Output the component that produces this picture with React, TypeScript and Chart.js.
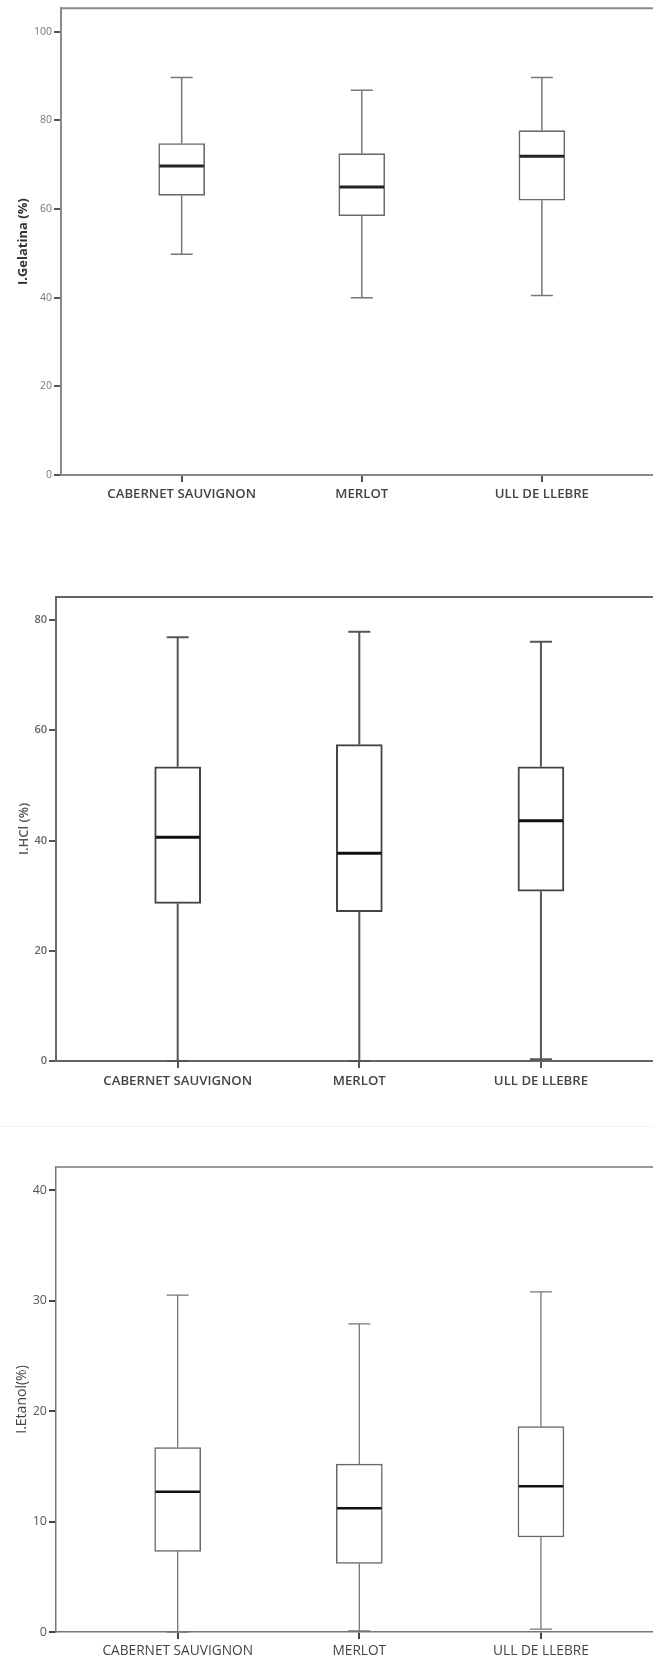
import React, { useEffect, useRef } from 'react';
import { Chart, registerables } from 'chart.js';

Chart.register(...registerables);

// ---------- data ----------
const categories = ['CABERNET SAUVIGNON', 'MERLOT', 'ULL DE LLEBRE'];

// I.Gelatina (%)
const gelMin = [49.8, 40.0, 40.5];
const gelQ1 = [63.1, 58.5, 62.0];
const gelMedian = [69.7, 65.0, 71.9];
const gelQ3 = [74.8, 72.5, 77.7];
const gelMax = [89.7, 86.8, 89.7];
const gelTicks = [0, 20, 40, 60, 80, 100];

// I.HCl (%)
const hclMin = [0, 0, 0.3];
const hclQ1 = [28.6, 27.1, 30.8];
const hclMedian = [40.6, 37.7, 43.6];
const hclQ3 = [53.4, 57.4, 53.4];
const hclMax = [76.9, 77.9, 76.1];
const hclTicks = [0, 20, 40, 60, 80];

// I.Etanol (%)
const etaMin = [0, 0.1, 0.26];
const etaQ1 = [7.3, 6.2, 8.6];
const etaMedian = [12.7, 11.2, 13.2];
const etaQ3 = [16.7, 15.2, 18.6];
const etaMax = [30.5, 27.9, 30.8];
const etaTicks = [0, 10, 20, 30, 40];

type Stats = { min: number[]; q1: number[]; median: number[]; q3: number[]; max: number[] };

type PanelStyle = {
  top: number;
  height: number;
  plotTop: number;
  plotLeft: number;
  xAxisHeight: number;
  yMax: number;
  yTicks: number[];
  title: string;
  titleFont: any;
  titleColor: string;
  titlePad: number;
  tickFont: any;
  tickColor: string;
  xFont: any;
  xColor: string;
  xPad: number;
  axisColor: string;
  axisWidth: number;
  markColor: string;
  boxColor: string;
  boxWidth: number;
  whiskerColor: string;
  whiskerWidth: number;
  medianColor: string;
  medianWidth: number;
};

const W = 653;

function makePlugin(stats: Stats, st: PanelStyle) {
  return {
    id: 'boxExtras',
    afterDatasetsDraw(chart: any) {
      const { ctx, chartArea, scales } = chart;
      const y = scales.y;
      const meta = chart.getDatasetMeta(0);
      const cap = 11;
      ctx.save();
      meta.data.forEach((bar: any, i: number) => {
        const x = bar.x;
        const half = bar.width / 2;
        const pMin = y.getPixelForValue(stats.min[i]);
        const pMax = y.getPixelForValue(stats.max[i]);
        const pQ1 = y.getPixelForValue(stats.q1[i]);
        const pQ3 = y.getPixelForValue(stats.q3[i]);
        const pMed = y.getPixelForValue(stats.median[i]);
        ctx.strokeStyle = st.whiskerColor;
        ctx.lineWidth = st.whiskerWidth;
        ctx.beginPath();
        ctx.moveTo(x, pQ3);
        ctx.lineTo(x, pMax);
        ctx.moveTo(x, pQ1);
        ctx.lineTo(x, pMin);
        ctx.moveTo(x - cap, pMax);
        ctx.lineTo(x + cap, pMax);
        ctx.moveTo(x - cap, pMin);
        ctx.lineTo(x + cap, pMin);
        ctx.stroke();
        ctx.strokeStyle = st.medianColor;
        ctx.lineWidth = st.medianWidth;
        ctx.beginPath();
        ctx.moveTo(x - half + st.boxWidth / 2, pMed);
        ctx.lineTo(x + half - st.boxWidth / 2, pMed);
        ctx.stroke();
      });
      ctx.strokeStyle = st.axisColor;
      ctx.lineWidth = st.axisWidth;
      ctx.beginPath();
      ctx.moveTo(chartArea.left, chartArea.top);
      ctx.lineTo(chartArea.right, chartArea.top);
      ctx.stroke();
      ctx.restore();
    },
  };
}

function BoxPanel({ stats, st }: { stats: Stats; st: PanelStyle }) {
  const ref = useRef<HTMLCanvasElement | null>(null);
  useEffect(() => {
    if (!ref.current) return;
    const data = categories.map((_, i) => ({ x: i + 1, y: [stats.q1[i], stats.q3[i]] }));
    const chart = new Chart(ref.current, {
      type: 'bar',
      data: {
        datasets: [
          {
            data: data as any,
            backgroundColor: '#ffffff',
            borderColor: st.boxColor,
            borderWidth: st.boxWidth,
            borderSkipped: false,
            barThickness: 46,
          } as any,
        ],
      },
      options: {
        animation: false,
        responsive: false,
        devicePixelRatio: 1,
        layout: { padding: { top: st.plotTop - st.top, left: 0, right: 0, bottom: 0 } },
        plugins: { legend: { display: false }, tooltip: { enabled: false } },
        scales: {
          x: {
            type: 'linear',
            min: 0.33,
            max: 3.617,
            offset: false,
            afterBuildTicks: (s: any) => {
              s.ticks = categories.map((_, i) => ({ value: i + 1 }));
            },
            afterFit: (s: any) => {
              s.height = st.xAxisHeight;
            },
            ticks: {
              autoSkip: false,
              maxRotation: 0,
              padding: st.xPad,
              color: st.xColor,
              font: st.xFont,
              callback: (v: any) => categories[Math.round(v) - 1] ?? '',
            },
            grid: { drawOnChartArea: false, drawTicks: true, tickLength: 7, color: st.markColor, lineWidth: 2, offset: false },
            border: { display: true, color: st.axisColor, width: st.axisWidth },
          },
          y: {
            type: 'linear',
            min: 0,
            max: st.yMax,
            afterBuildTicks: (s: any) => {
              s.ticks = st.yTicks.map((v) => ({ value: v }));
            },
            afterFit: (s: any) => {
              s.width = st.plotLeft;
            },
            ticks: { padding: 2, color: st.tickColor, font: st.tickFont },
            grid: { drawOnChartArea: false, drawTicks: true, tickLength: 7, color: st.markColor, lineWidth: 2 },
            border: { display: true, color: st.axisColor, width: st.axisWidth },
            title: {
              display: true,
              text: st.title,
              color: st.titleColor,
              font: st.titleFont,
              padding: { top: st.titlePad, bottom: 0 },
            },
          },
        },
      } as any,
      plugins: [makePlugin(stats, st)],
    });
    return () => chart.destroy();
  }, []);
  return (
    <canvas
      ref={ref}
      width={W}
      height={st.height}
      style={{ position: 'absolute', left: 0, top: st.top, width: W, height: st.height }}
    />
  );
}

const condFont = (size: number, weight: any = 600) => ({ family: "'Open Sans', sans-serif", size, weight });

const p1: PanelStyle = {
  top: 0,
  height: 520,
  plotTop: 8,
  plotLeft: 61,
  xAxisHeight: 520 - 475,
  yMax: 105.3,
  yTicks: gelTicks,
  title: 'I.Gelatina (%)',
  titleFont: condFont(13, 700),
  titleColor: '#333',
  titlePad: 15,
  tickFont: condFont(10.5, 400),
  tickColor: '#777',
  xFont: condFont(13.2, 600),
  xColor: '#444',
  xPad: 4,
  axisColor: '#8a8a8a',
  axisWidth: 2,
  markColor: '#555',
  boxColor: '#6a6a6a',
  boxWidth: 1.6,
  whiskerColor: '#777',
  whiskerWidth: 1.5,
  medianColor: '#222',
  medianWidth: 3,
};

const p2: PanelStyle = {
  top: 540,
  height: 560,
  plotTop: 597,
  plotLeft: 56,
  xAxisHeight: 1100 - 1061,
  yMax: 84.2,
  yTicks: hclTicks,
  title: 'I.HCl (%)',
  titleFont: condFont(13, 600),
  titleColor: '#555',
  titlePad: 16,
  tickFont: condFont(11, 600),
  tickColor: '#666',
  xFont: condFont(13.2, 600),
  xColor: '#444',
  xPad: 5,
  axisColor: '#666',
  axisWidth: 2,
  markColor: '#555',
  boxColor: '#444',
  boxWidth: 2,
  whiskerColor: '#555',
  whiskerWidth: 2,
  medianColor: '#111',
  medianWidth: 3,
};

const p3: PanelStyle = {
  top: 1100,
  height: 560,
  plotTop: 1167,
  plotLeft: 56,
  xAxisHeight: 1660 - 1632,
  yMax: 42.1,
  yTicks: etaTicks,
  title: 'I.Etanol(%)',
  titleFont: condFont(14, 400),
  titleColor: '#444',
  titlePad: 14,
  tickFont: condFont(12.5, 400),
  tickColor: '#555',
  xFont: condFont(13.7, 400),
  xColor: '#444',
  xPad: 4,
  axisColor: '#777',
  axisWidth: 1.5,
  markColor: '#444',
  boxColor: '#666',
  boxWidth: 1.5,
  whiskerColor: '#777',
  whiskerWidth: 1.3,
  medianColor: '#111',
  medianWidth: 2.5,
};

export default function App() {
  return (
    <div style={{ position: 'absolute', left: 0, top: 0, width: W, height: 1660, background: '#fff', overflow: 'hidden' }}>
      <BoxPanel st={p1} stats={{ min: gelMin, q1: gelQ1, median: gelMedian, q3: gelQ3, max: gelMax }} />
      <BoxPanel st={p2} stats={{ min: hclMin, q1: hclQ1, median: hclMedian, q3: hclQ3, max: hclMax }} />
      <div style={{ position: 'absolute', left: 0, top: 1126, width: W, height: 1, background: '#f3f3f3' }} />
      <BoxPanel st={p3} stats={{ min: etaMin, q1: etaQ1, median: etaMedian, q3: etaQ3, max: etaMax }} />
    </div>
  );
}
